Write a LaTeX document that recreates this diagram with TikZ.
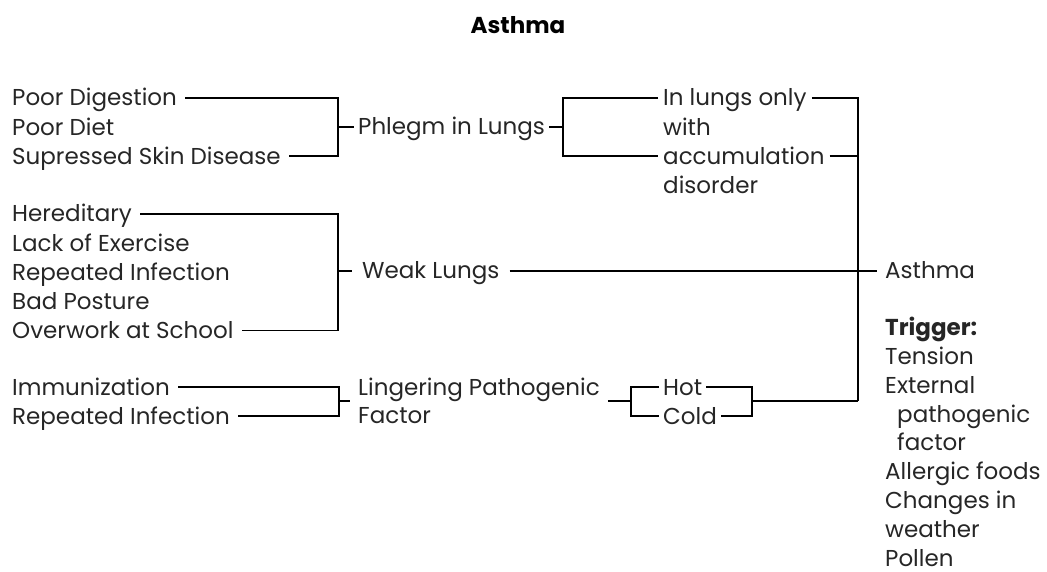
\documentclass[tikz,border=0pt]{standalone}
\usepackage{fontspec}
\setmainfont{Poppins}
\usetikzlibrary{positioning}

\begin{document}
\begin{tikzpicture}[x=1pt,y=-1pt,
    item/.style={anchor=west,inner xsep=8pt,inner ysep=1.35pt,text height=21pt,text depth=5pt,text=black!85,font=\fontsize{23}{27}\selectfont},
    link/.style={line width=1.4pt}
    ]
  \useasboundingbox (0,0) rectangle (1047,572);

  \node[font=\bfseries\fontsize{23}{27}\selectfont] (title) at (518,25) {Asthma};

  % phlegm branch
  \node[item] (pd) at (4,98) {Poor Digestion};
  \node[item,below=0pt of pd.south west,anchor=north west] (pdiet) {Poor Diet};
  \node[item,below=0pt of pdiet.south west,anchor=north west] (ssd) {Supressed Skin Disease};
  \node[item,inner xsep=4pt] (phl) at (354,127) {Phlegm in Lungs};

  \node[item,inner xsep=5pt] (il1) at (658,98) {In lungs only};
  \node[item,inner xsep=5pt,below=0pt of il1.south west,anchor=north west] (il2) {with};
  \node[item,inner xsep=5pt,below=0pt of il2.south west,anchor=north west] (il3) {accumulation};
  \node[item,inner xsep=5pt,below=0pt of il3.south west,anchor=north west] (il4) {disorder};

  % weak lungs branch
  \node[item] (her) at (4,214) {Hereditary};
  \node[item,below=0pt of her.south west,anchor=north west] (lack) {Lack of Exercise};
  \node[item,below=0pt of lack.south west,anchor=north west] (rep) {Repeated Infection};
  \node[item,below=0pt of rep.south west,anchor=north west] (bad) {Bad Posture};
  \node[item,below=0pt of bad.south west,anchor=north west] (ow) {Overwork at School};
  \node[item,inner xsep=10pt] (wl) at (352,271) {Weak Lungs};

  \node[item] (asth) at (877,271) {Asthma};

  % lingering pathogenic factor branch
  \node[item] (imm) at (4,387) {Immunization};
  \node[item,below=0pt of imm.south west,anchor=north west] (rep2) {Repeated Infection};
  \node[anchor=west,align=left,inner xsep=8pt,text=black!85,font=\fontsize{23}{28.7}\selectfont] (lpf) at (350,401) {Lingering Pathogenic\\Factor};

  \node[item,inner xsep=4pt] (hot) at (659,387) {Hot};
  \node[item,inner xsep=4pt,below=0pt of hot.south west,anchor=north west] (cold) {Cold};

  % triggers
  \node[anchor=base west,align=left,inner xsep=5pt,text=black!85,font=\fontsize{23}{28.8}\selectfont] (trig) at (880,566) {\textbf{Trigger:}\\Tension\\External\\\hspace*{12pt}pathogenic\\\hspace*{12pt}factor\\Allergic foods\\Changes in\\weather\\Pollen};

  % brackets
  \coordinate (j1) at (338,127);
  \coordinate (j2) at (563,127);
  \coordinate (j3) at (858,401);
  \coordinate (j5) at (338,271);
  \coordinate (j6) at (339,401);
  \coordinate (j7) at (631,401);
  \coordinate (j8) at (752,401);

  \draw[link] (pd.east) -| (j1) |- (ssd.east);
  \draw[link] (j1) -- (phl.west);
  \draw[link] (phl.east) -- (j2);
  \draw[link] (il1.west) -| (j2) |- (il3.west);
  \draw[link] (il1.east) -| (j3);
  \draw[link] (il3.east) -- (il3.east -| j3);

  \draw[link] (her.east) -| (j5) |- (ow.east);
  \draw[link] (j5) -- (wl.west);
  \draw[link] (wl.east) -- (asth.west);

  \draw[link] (imm.east) -| (j6) |- (rep2.east);
  \draw[link] (j6) -- (lpf.west);
  \draw[link] (lpf.east) -- (j7);
  \draw[link] (hot.west) -| (j7) |- (cold.west);
  \draw[link] (hot.east) -| (j8) |- (cold.east);
  \draw[link] (j8) -- (j3);

\end{tikzpicture}
\end{document}
